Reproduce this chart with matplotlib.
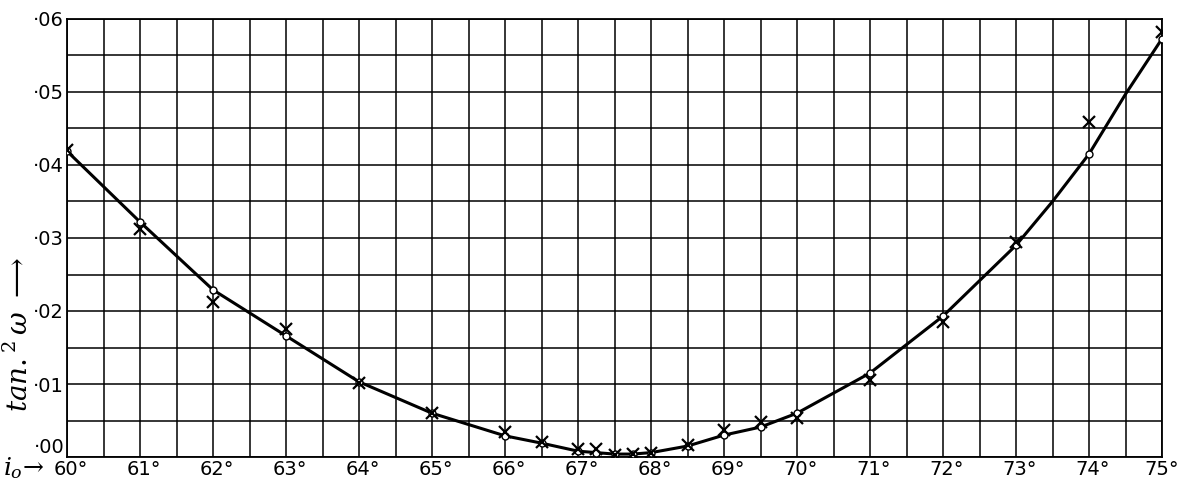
import matplotlib
matplotlib.use("Agg")
import matplotlib.pyplot as plt
import matplotlib.transforms as mtransforms
import numpy as np

# observed values (crosses)
obs_i = [60, 61, 62, 63, 64, 65, 66, 66.5, 67, 67.25, 67.5, 67.75, 68, 68.5, 69, 69.5, 70, 71, 72, 73, 74, 75]
obs_t = [0.0420, 0.0312, 0.0212, 0.0175, 0.0101, 0.0060, 0.0034, 0.0021, 0.0011, 0.0011, 0.0003, 0.0004, 0.0006, 0.0016,
         0.0037, 0.0048, 0.0053, 0.0105, 0.0185, 0.0295, 0.0459, 0.0582]

# calculated values (small circles, curve)
calc_i = [60, 61, 62, 63, 64, 65, 66, 66.5, 67, 67.25, 67.5, 67.75, 68, 68.5, 69, 69.5, 70, 71, 72, 73, 73.5, 74, 74.5, 75]
calc_t = [0.0419, 0.0322, 0.0229, 0.0166, 0.0103, 0.0060, 0.0029, 0.0019, 0.0008, 0.0006, 0.0004, 0.0004, 0.0006, 0.0015,
          0.0030, 0.0041, 0.0060, 0.0115, 0.0193, 0.0290, 0.0350, 0.0415, 0.0497, 0.0573]
circle_i = [60, 61, 62, 63, 64, 65, 66, 66.5, 67, 67.25, 67.5, 67.75, 68, 68.5, 69, 69.5, 70, 71, 72, 73, 74, 75]

x_ticks = list(range(60, 76))
x_labels = [f"{v}°" for v in x_ticks]
y_ticks = [0.00, 0.01, 0.02, 0.03, 0.04, 0.05, 0.06]
y_labels = ["·00", "·01", "·02", "·03", "·04", "·05", "·06"]

plt.rcParams["mathtext.fontset"] = "dejavuserif"

fig = plt.figure(figsize=(11.82, 4.82), dpi=100)
ax = fig.add_axes([67/1182, 25/482, (1162-67)/1182, (457-19)/482])

ax.set_xlim(60, 75)
ax.set_ylim(0, 0.06)

# grid every half degree and every 0.005
for gx in np.arange(60, 75.01, 0.5):
    ax.axvline(gx, color="black", lw=1.1, zorder=1)
for gy in np.arange(0, 0.0601, 0.005):
    ax.axhline(gy, color="black", lw=1.1, zorder=1)

ax.plot(calc_i, calc_t, color="black", lw=2.2, zorder=3, solid_capstyle="round")
cmap = dict(zip(calc_i, calc_t))
ax.plot(circle_i, [cmap[v] for v in circle_i], linestyle="none", marker="o", ms=5,
        mfc="white", mec="black", mew=1.0, zorder=4)
ax.plot(obs_i, obs_t, linestyle="none", marker="x", ms=8, mec="black", mew=1.6, zorder=5)

for s in ax.spines.values():
    s.set_linewidth(1.3)

ax.set_xticks(x_ticks)
ax.set_xticklabels(x_labels, fontsize=14)
ax.set_yticks(y_ticks)
ax.set_yticklabels(y_labels, fontsize=14)
ax.tick_params(length=0, pad=2)
ax.get_yticklabels()[0].set_verticalalignment("bottom")
offset = mtransforms.ScaledTranslation(4/100, 0, fig.dpi_scale_trans)
xl = ax.get_xticklabels()
for lab in xl[:-1]:
    lab.set_transform(lab.get_transform() + offset)

fig.text(19/1182, 1 - 335/482, r"$tan.^{2}\,\omega$ $\longrightarrow$", rotation=90,
         fontsize=20, ha="center", va="center")
fig.text(3/1182, 1 - 468/482, r"$i_{o}\!\rightarrow$", fontsize=18, ha="left", va="center")

fig.savefig("out.png", dpi=100)
